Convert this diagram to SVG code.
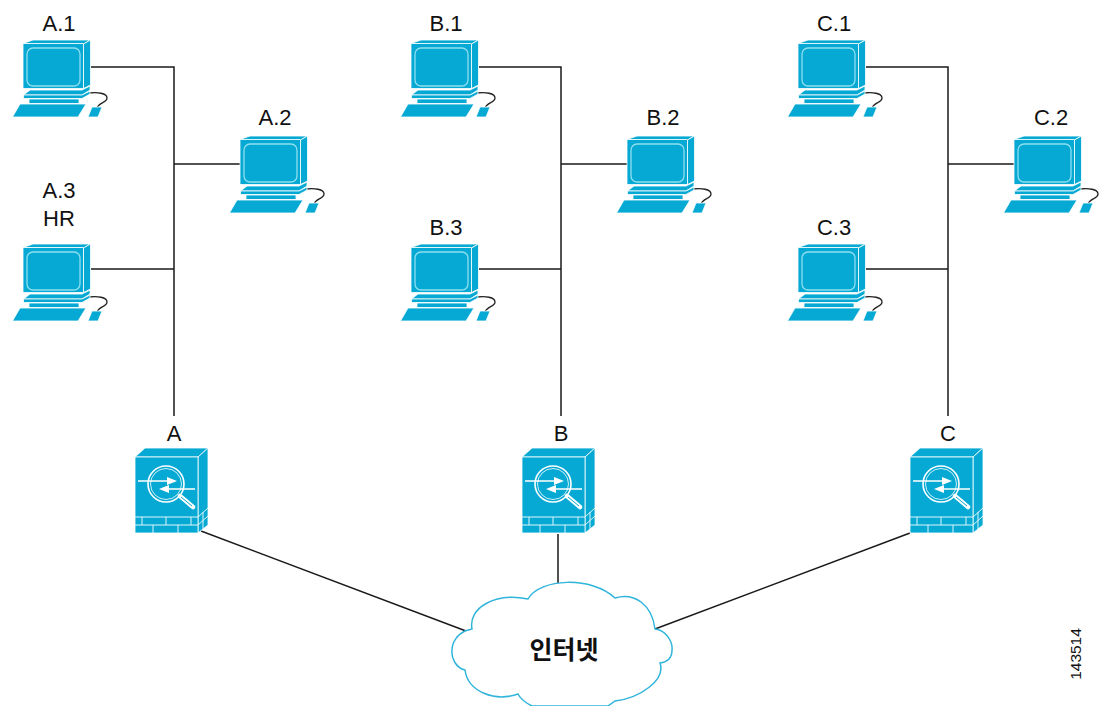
<svg xmlns="http://www.w3.org/2000/svg" width="1102" height="706" viewBox="0 0 1102 706">
<style>
.b{fill:#05a9d3;stroke:#fff;stroke-width:.8}
.w{fill:none;stroke:#dff5fa;stroke-width:1}
.c{fill:none;stroke:#1a1a1a;stroke-width:1.5}
text{font-family:"Liberation Sans",Arial,sans-serif;font-size:22px;fill:#111;text-anchor:middle}
</style>
<defs>
<g id="pc">
<path d="M89 93C97 92 107 93 107 98C107 103 99 102 97 108" fill="none" stroke="#222" stroke-width="1.300"/>
<path class="b" d="M23 43.500L33 40H90.500L83.500 44V88.500H23Z"/>
<path class="b" d="M83.500 44L90.500 40V85L83.500 88.500Z"/>
<path class="w" d="M23 43.500H83.500"/>
<rect x="27" y="48" width="53" height="38" rx="6" fill="#05a9d3" stroke="#8fdff0" stroke-width="1.300"/>
<path class="b" d="M30 90H82L90 86V90L82 95H23.500Z"/>
<path class="b" d="M23.500 95H82L90 91V94L82 98.500H23.500Z"/>
<rect class="b" x="29" y="99" width="50" height="4.500"/>
<path class="b" d="M20 104H86L78 117H12.500Z"/>
<path class="b" d="M92 107H102L98 117H88Z"/>
</g>
<g id="fw">
<path class="b" d="M135 457L145 448H208L198 457Z"/>
<path class="b" d="M198 457L208 448V525L198 533Z"/>
<rect class="b" x="135" y="457" width="63" height="76"/>
<path class="w" d="M135 517H198M135 525H198M142 517V525M166 517V525M191 517V525M153 525V533M178 525V533M198 525L208 516M198 517L208 508M203 512V521M203 521V529"/>
<circle cx="166" cy="484" r="18" fill="#05a9d3" stroke="#fff" stroke-width="1.600"/>
<circle cx="166" cy="484" r="15.500" fill="none" stroke="#cdeff7" stroke-width="1"/>
<path d="M180 496L193 507" stroke="#fff" stroke-width="4.500" stroke-linecap="round"/>
<path d="M181 497L192 506" stroke="#05a9d3" stroke-width="1"/>
<path d="M138 481H172M164 489H195" fill="none" stroke="#fff" stroke-width="1.300"/>
<path fill="#fff" d="M167 477L177 481L167 485ZM169 485L159 489L169 493Z"/>
</g>
</defs>
<g id="connectors" class="c">
<path class="c" d="M91 67H174V416M174 164H240M91 269H174"/>
<path class="c" d="M479 67H561V416M561 164H628M479 269H561"/>
<path class="c" d="M866 67H948V416M948 164H1015M866 269H948"/>
<path class="c" d="M201 531L466 631M558 534V585M910 533L655 629"/>
</g>
<g id="pcA1"><use href="#pc"/><text x="59" y="31">A.1</text></g>
<g id="pcA2"><use href="#pc" x="217" y="96"/><text x="275" y="125">A.2</text></g>
<g id="pcA3"><use href="#pc" y="204"/><text x="59" y="198">A.3</text><text x="59" y="226">HR</text></g>
<g id="pcB1"><use href="#pc" x="388"/><text x="446" y="31">B.1</text></g>
<g id="pcB2"><use href="#pc" x="604" y="96"/><text x="663" y="125">B.2</text></g>
<g id="pcB3"><use href="#pc" x="388" y="204"/><text x="446" y="235">B.3</text></g>
<g id="pcC1"><use href="#pc" x="775"/><text x="834" y="31">C.1</text></g>
<g id="pcC2"><use href="#pc" x="991" y="96"/><text x="1051" y="125">C.2</text></g>
<g id="pcC3"><use href="#pc" x="775" y="204"/><text x="834" y="235">C.3</text></g>
<g id="fwA"><use href="#fw"/><text x="174" y="441">A</text></g>
<g id="fwB"><use href="#fw" x="387"/><text x="561" y="441">B</text></g>
<g id="fwC"><use href="#fw" x="775"/><text x="948" y="441">C</text></g>
<g id="internet">
<path fill="#fff" stroke="#2fb4dc" stroke-width="1.500" d="M465 631L472 629C468 608 495 592 528 599C540 578 592 576 615 598C635 592 652 605 655 629C666 630 673 642 672 650C672 658 667 662 660 663C666 680 640 698 615 701L608 706H532C526 703 520 698 518 694C495 702 468 692 465 670C456 668 451 658 452 650C452 642 458 634 465 631Z"/>
<text x="564" y="659" style="font-family:'Noto Sans CJK KR','Liberation Sans',sans-serif;font-size:25px;font-weight:700">인터넷</text>
</g>
<text transform="translate(1081 654) rotate(-90)" style="font-size:15.500px">143514</text>
</svg>
